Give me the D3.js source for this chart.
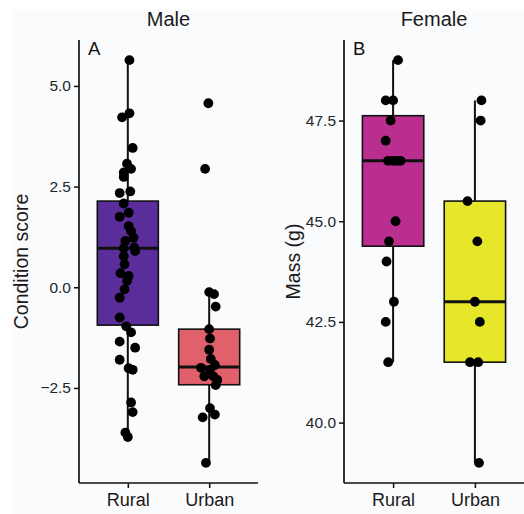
<!DOCTYPE html>
<html>
<head>
<meta charset="utf-8">
<script src="https://cdn.jsdelivr.net/npm/d3@7"></script>
<style>
  html, body { margin: 0; padding: 0; background: #fff; }
  svg { display: block; font-family: "Liberation Sans", Arial, sans-serif; }
</style>
</head>
<body>
<div id="chart"></div>
<script>
// categories
const GROUPS = ["Rural", "Urban"];

// Male: condition score points [value, jitter in category units]
const maleRural = [
  [5.64, 0.02], [4.32, 0.02], [4.22, -0.07], [3.46, 0.06], [3.07, -0.01], [2.94, 0.04],
  [2.85, -0.05], [2.74, -0.05], [2.38, 0.03], [2.34, -0.10], [2.08, -0.05], [1.85, 0.01],
  [1.75, -0.10], [1.52, 0.01], [1.39, 0.04], [1.23, 0.07], [1.15, -0.03], [0.99, 0.08],
  [0.97, -0.05], [0.90, 0.09], [0.77, -0.05], [0.57, -0.04], [0.35, -0.09], [0.28, 0.01],
  [0.16, -0.01], [-0.05, -0.04], [-0.26, -0.10], [-0.75, -0.10], [-0.97, -0.02], [-1.12, 0.04],
  [-1.35, -0.10], [-1.50, 0.09], [-1.80, -0.10], [-2.01, 0.01], [-2.05, 0.06], [-2.86, 0.04],
  [-3.10, 0.06], [-3.61, -0.03], [-3.72, 0.00]
];
const maleUrban = [
  [4.57, -0.01], [2.94, -0.05], [-0.12, 0.00], [-0.17, 0.06], [-0.48, 0.08], [-1.04, 0.00],
  [-1.27, 0.01], [-1.55, 0.00], [-1.78, 0.02], [-1.93, 0.07], [-2.00, -0.10], [-2.05, 0.01],
  [-2.21, -0.06], [-2.21, 0.05], [-2.30, 0.10], [-2.43, 0.08], [-3.00, 0.01], [-3.16, 0.07],
  [-3.23, -0.08], [-4.36, -0.04]
];
// Female: mass points [value, jitter]
const femaleRural = [
  [49.0, 0.06], [48.0, -0.09], [48.0, 0.00], [47.5, -0.03], [47.0, -0.09], [46.5, -0.06],
  [46.5, 0.00], [46.5, 0.05], [46.5, 0.09], [45.0, 0.03], [44.5, -0.05], [44.0, -0.08],
  [43.0, 0.01], [42.5, -0.09], [41.5, -0.06]
];
const femaleUrban = [
  [48.0, 0.08], [47.5, 0.07], [45.5, -0.09], [44.5, 0.03], [43.0, 0.00], [42.5, 0.06],
  [41.5, -0.06], [41.5, 0.04], [39.0, 0.05]
];

// box stats [lower whisker, q1, median, q3, upper whisker]
const maleBoxes = [[-3.72, -0.94, 0.97, 2.14, 5.64], [-4.36, -2.42, -1.98, -1.04, -0.12]];
const femaleBoxes = [[41.5, 44.38, 46.5, 47.62, 49.0], [39.0, 41.5, 43.0, 45.5, 48.0]];

const maleTicks = [-2.5, 0, 2.5, 5];
const femaleTicks = [40, 42.5, 45, 47.5];

const maleColors = ["#5a2d9b", "#e0616c"];
const femaleColors = ["#b92e8e", "#e6e62b"];

const W = 524, H = 514;
const svg = d3.select("#chart").append("svg").attr("width", W).attr("height", H);

svg.append("rect").attr("x", 13).attr("y", 10).attr("width", W - 13).attr("height", H - 10)
  .attr("fill", "#fafbfd");

const plotTop = 40, plotBottom = 483;

function panel(opt) {
  const g = svg.append("g");
  const all = opt.points.flat().map(d => d[0]);
  const ext = d3.extent(all);
  const pad = (ext[1] - ext[0]) * 0.05;
  const y = d3.scaleLinear().domain([ext[0] - pad, ext[1] + pad]).range([plotBottom, plotTop]);
  const x = d3.scaleLinear().domain([0.4, 2.6]).range([opt.x0, opt.x1]);
  const bw = x(1.375) - x(1);

  // y axis
  const ya = g.append("g").attr("transform", `translate(${opt.x0},0)`)
    .call(d3.axisLeft(y).tickValues(opt.ticks).tickFormat(d3.format(".1f")).tickSize(5).tickPadding(3));
  ya.select(".domain").attr("d", `M0,${plotTop}V${plotBottom}`).attr("stroke", "#111").attr("stroke-width", 1.7);
  ya.selectAll(".tick line").attr("stroke", "#111").attr("stroke-width", 1.5);
  ya.selectAll(".tick text").attr("fill", "#262626").style("font-size", "15.5px")
    .style("font-family", "'Liberation Sans', Arial, sans-serif");

  // x axis
  const xa = g.append("g").attr("transform", `translate(0,${plotBottom})`)
    .call(d3.axisBottom(x).tickValues([1, 2]).tickFormat(d => GROUPS[d - 1]).tickSize(5).tickPadding(5));
  xa.select(".domain").attr("d", `M${opt.x0},0H${opt.x1}`).attr("stroke", "#111").attr("stroke-width", 1.7);
  xa.selectAll(".tick line").attr("stroke", "#111").attr("stroke-width", 1.5);
  xa.selectAll(".tick text").attr("fill", "#1a1a1a").style("font-size", "18px")
    .style("font-family", "'Liberation Sans', Arial, sans-serif");

  // whiskers + boxes
  opt.boxes.forEach((b, i) => {
    const cx = x(i + 1);
    g.append("line").attr("x1", cx).attr("x2", cx).attr("y1", y(b[0])).attr("y2", y(b[4]))
      .attr("stroke", "#111").attr("stroke-width", 2);
    g.append("rect").attr("x", cx - bw).attr("width", bw * 2)
      .attr("y", y(b[3])).attr("height", y(b[1]) - y(b[3]))
      .attr("fill", opt.colors[i]).attr("stroke", "#111").attr("stroke-width", 1.6);
    g.append("line").attr("x1", cx - bw).attr("x2", cx + bw).attr("y1", y(b[2])).attr("y2", y(b[2]))
      .attr("stroke", "#111").attr("stroke-width", 3);
  });

  // points
  opt.points.forEach((pts, i) => {
    g.append("g").selectAll("circle").data(pts).enter().append("circle")
      .attr("cx", d => x(i + 1 + d[1])).attr("cy", d => y(d[0]))
      .attr("r", 4.9).attr("fill", "#000");
  });

  // facet title, tag, y label
  svg.append("text").attr("x", (opt.x0 + opt.x1) / 2).attr("y", 26).attr("text-anchor", "middle")
    .style("font-size", "20px").attr("fill", "#1a1a1a").text(opt.title);
  svg.append("text").attr("x", opt.x0 + 9).attr("y", 55)
    .style("font-size", "18.5px").attr("fill", "#111").text(opt.tag);
  svg.append("text").attr("transform", `translate(${opt.labelX},${(plotTop + plotBottom) / 2}) rotate(-90)`)
    .attr("text-anchor", "middle").style("font-size", "19.5px").attr("fill", "#1a1a1a").text(opt.ylabel);
}

panel({ x0: 79, x1: 258, points: [maleRural, maleUrban], boxes: maleBoxes, ticks: maleTicks,
  colors: maleColors, title: "Male", tag: "A", ylabel: "Condition score", labelX: 28 });
panel({ x0: 344, x1: 524, points: [femaleRural, femaleUrban], boxes: femaleBoxes, ticks: femaleTicks,
  colors: femaleColors, title: "Female", tag: "B", ylabel: "Mass (g)", labelX: 300 });
</script>
</body>
</html>
